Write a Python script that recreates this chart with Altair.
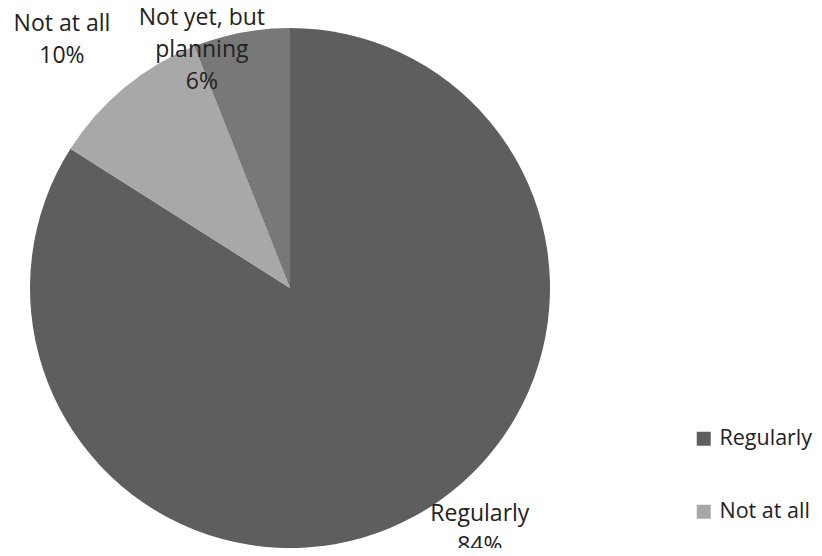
import altair as alt
import pandas as pd

categories = ["Regularly", "Not at all", "Not yet, but planning"]
values = [84, 10, 6]
label_lines = ["Regularly\n84%", "Not at all\n10%", "Not yet, but\nplanning\n6%"]
colors = ["#5e5e5e", "#a8a8a8", "#787878"]

df = pd.DataFrame({
    "category": categories,
    "value": values,
    "label": label_lines,
    "order": list(range(len(categories))),
})

CX, CY, R = 282, 280, 260

base = alt.Chart(df).transform_stack(
    stack="value",
    groupby=[],
    as_=["v0", "v1"],
    sort=[alt.SortField("order", order="ascending")],
).transform_calculate(mid="(datum.v0 + datum.v1) / 2")

theta_scale = alt.Scale(domain=[0, 100])

pie = base.mark_arc(outerRadius=R, stroke=None).encode(
    theta=alt.Theta("v0:Q", scale=theta_scale),
    theta2="v1:Q",
    x=alt.value(CX),
    y=alt.value(CY),
    color=alt.Color(
        "category:N",
        scale=alt.Scale(domain=categories, range=colors),
        sort=categories,
        legend=alt.Legend(
            title=None,
            orient="none",
            legendX=685,
            legendY=420,
            symbolType="square",
            symbolSize=196,
            symbolStrokeWidth=0,
            labelFont="Open Sans",
            labelFontSize=21.5,
            labelColor="#222222",
            rowPadding=50,
            labelOffset=5,
            labelLimit=300,
        ),
    ),
)

label_specs = [
    ("Regularly", 295, -0.1965),
    ("Not at all", 349, -0.021),
    ("Not yet, but planning", 284, -0.127),
]

layers = [pie]
for cat, rad, toff in label_specs:
    layers.append(
        base.transform_filter(alt.datum.category == cat)
        .mark_text(
            radius=rad,
            thetaOffset=toff,
            font="Open Sans",
            fontSize=23,
            color="#222222",
            lineBreak="\n",
            lineHeight=32,
            align="center",
            baseline="middle",
        )
        .encode(
            theta=alt.Theta("mid:Q", scale=theta_scale),
            x=alt.value(CX),
            y=alt.value(CY),
            text="label:N",
        )
    )

chart = alt.layer(*layers).properties(
    width=806,
    height=540,
    autosize=alt.AutoSizeParams(type="none"),
    padding=0,
).configure_view(stroke=None)

chart.save("out.html", embed_options={"renderer": "svg", "actions": False})
